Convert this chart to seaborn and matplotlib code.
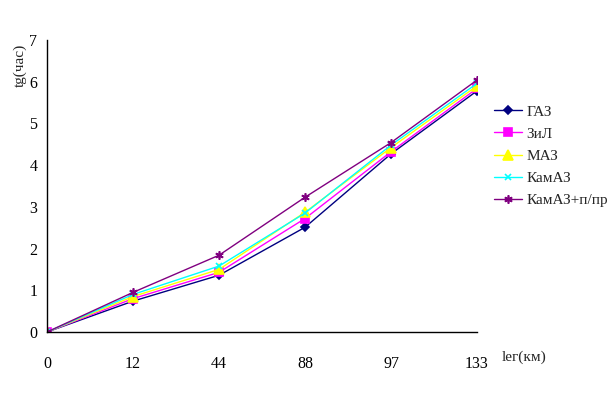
import matplotlib
matplotlib.use('Agg')
import matplotlib.pyplot as plt
import pandas as pd
import seaborn as sns

# data
distance = ['0', '12', '44', '88', '97', '133']
gaz      = [0, 0.74, 1.36, 2.51, 4.27, 5.78]
zil      = [0, 0.80, 1.43, 2.72, 4.32, 5.84]
maz      = [0, 0.85, 1.50, 2.87, 4.42, 5.90]
kamaz    = [0, 0.90, 1.58, 2.85, 4.48, 5.96]
kamaz_pp = [0, 0.95, 1.84, 3.23, 4.54, 6.04]

series = [
    ('ГАЗ',          gaz,      '#000080', 'D', 4.5),
    ('ЗиЛ',          zil,      '#FF00FF', 's', 5.5),
    ('МАЗ',          maz,      '#FFFF00', '^', 6.5),
    ('КамАЗ',        kamaz,    '#00FFFF', 'x', 4.5),
    ('КамАЗ+п/пр',   kamaz_pp, '#800080', (6, 2, 0), 6),
]

sns.set_style('white')
plt.rcParams['font.family'] = ['Liberation Serif', 'DejaVu Serif']
plt.rcParams['font.size'] = 11

fig = plt.figure(figsize=(6.16, 4.17), dpi=100)
ax = fig.add_axes([47 / 616, 85 / 417, 430 / 616, 292 / 417])

for name, vals, col, mk, ms in series:
    df = pd.DataFrame({'x': distance, 'y': vals})
    sns.lineplot(data=df, x='x', y='y', ax=ax, color=col, marker=mk,
                 markersize=ms, markeredgecolor=col, markerfacecolor=col,
                 markeredgewidth=1.2, linewidth=1, label=name)

ax.set_xlim(0, 5)
ax.set_ylim(0, 7)
ax.set_yticks(range(8))
ax.set_xlabel('')
ax.set_ylabel('')
for s in ['top', 'right']:
    ax.spines[s].set_visible(False)
for s in ['left', 'bottom']:
    ax.spines[s].set_color('black')
    ax.spines[s].set_linewidth(1)
ax.tick_params(axis='both', direction='out', length=4, width=1,
               colors='black', labelsize=11.5)
ax.tick_params(axis='x', pad=13)
ax.tick_params(axis='y', pad=3)

leg = ax.legend(loc='upper left', bbox_to_anchor=(494 / 616, 1 - 105 / 417),
                bbox_transform=fig.transFigure, frameon=False, fontsize=11,
                borderpad=0, borderaxespad=0, labelspacing=0.55,
                handlelength=1.8, handletextpad=0.3)

fig.text(20 / 616, 1 - 65 / 417, 'tg(час)', rotation=90, ha='center',
         va='center', fontsize=11)
fig.text(524 / 616, 1 - 357 / 417, 'lег(км)', ha='center', va='center',
         fontsize=11)

fig.savefig('out.png', dpi=100)
